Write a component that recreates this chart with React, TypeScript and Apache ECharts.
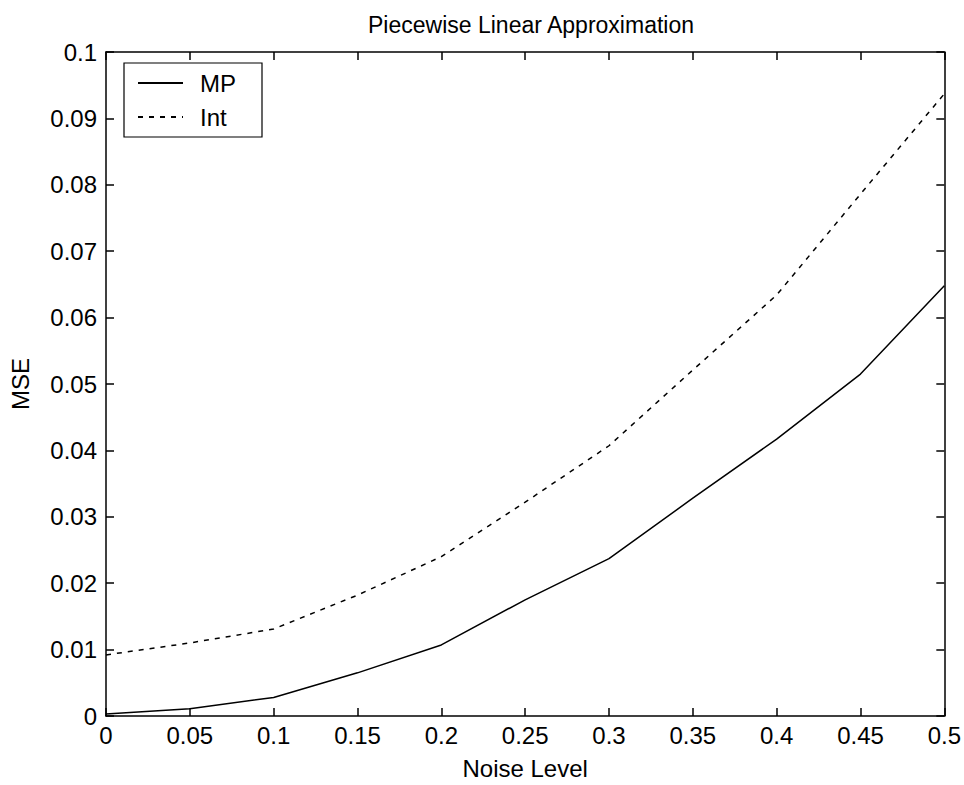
import React, { useEffect, useRef } from "react";
import * as echarts from "echarts";

const noiseLevels = [0, 0.05, 0.1, 0.15, 0.2, 0.25, 0.3, 0.35, 0.4, 0.45, 0.5];
const mpValues = [0.0003, 0.0011, 0.0028, 0.0065, 0.0107, 0.0175, 0.0237, 0.0328, 0.0417, 0.0515, 0.0648];
const intValues = [0.0092, 0.011, 0.0131, 0.0182, 0.024, 0.0322, 0.0407, 0.0521, 0.0634, 0.0786, 0.0937];
const seriesNames = ["MP", "Int"];
const titleText = "Piecewise Linear Approximation";
const xLabel = "Noise Level";
const yLabel = "MSE";

const FONT = "'Liberation Sans', Arial, Helvetica, sans-serif";

export default function App() {
  const ref = useRef<HTMLDivElement>(null);
  useEffect(() => {
    if (!ref.current) return;
    const chart = echarts.init(ref.current, undefined, { renderer: "svg" });
    const fmt = (v: number) => String(+v.toFixed(3));
    const axisCommon = {
      axisLine: { show: true, onZero: false, lineStyle: { color: "#000", width: 1.5 } },
      axisTick: { show: true, inside: true, length: 8, lineStyle: { color: "#000", width: 1.5 } },
      splitLine: { show: false },
    };
    chart.setOption({
      animation: false,
      backgroundColor: "#fff",
      textStyle: { fontFamily: FONT },
      title: {
        text: titleText,
        left: 526,
        textAlign: "center",
        top: 8,
        textStyle: { fontFamily: FONT, fontSize: 23, fontWeight: "normal", color: "#000" },
      },
      grid: { left: 106, right: 18, top: 52, bottom: 67 },
      legend: {
        left: 124,
        top: 63,
        orient: "vertical",
        data: seriesNames,
        borderColor: "#000",
        borderWidth: 1.2,
        padding: [8, 26, 8, 13],
        itemWidth: 45,
        itemHeight: 14,
        itemGap: 10,
        itemStyle: { opacity: 0 },
        textStyle: { fontFamily: FONT, fontSize: 24, color: "#000", padding: [0, 0, 0, 12] },
      },
      xAxis: [
        {
          type: "value",
          min: 0,
          max: 0.5,
          interval: 0.05,
          position: "bottom",
          name: xLabel,
          nameLocation: "middle",
          nameGap: 40,
          nameTextStyle: { fontFamily: FONT, fontSize: 24, color: "#000" },
          axisLabel: { fontFamily: FONT, fontSize: 24, color: "#000", margin: 7, formatter: fmt },
          ...axisCommon,
        },
        {
          type: "value",
          min: 0,
          max: 0.5,
          interval: 0.05,
          position: "top",
          axisLabel: { show: false },
          ...axisCommon,
        },
      ],
      yAxis: [
        {
          type: "value",
          min: 0,
          max: 0.1,
          interval: 0.01,
          position: "left",
          name: yLabel,
          nameLocation: "middle",
          nameGap: 74,
          nameRotate: 90,
          nameTextStyle: { fontFamily: FONT, fontSize: 24, color: "#000" },
          axisLabel: { fontFamily: FONT, fontSize: 24, color: "#000", margin: 9, formatter: fmt },
          ...axisCommon,
        },
        {
          type: "value",
          min: 0,
          max: 0.1,
          interval: 0.01,
          position: "right",
          axisLabel: { show: false },
          ...axisCommon,
        },
      ],
      series: [
        {
          name: seriesNames[0],
          type: "line",
          data: noiseLevels.map((x, i) => [x, mpValues[i]]),
          symbol: "none",
          lineStyle: { color: "#000", width: 1.5, type: "solid" },
          itemStyle: { color: "#000" },
        },
        {
          name: seriesNames[1],
          type: "line",
          data: noiseLevels.map((x, i) => [x, intValues[i]]),
          symbol: "none",
          lineStyle: { color: "#000", width: 1.5, type: [5, 6] },
          itemStyle: { color: "#000" },
        },
      ],
    });
    return () => chart.dispose();
  }, []);
  return (
    <div
      ref={ref}
      style={{ position: "fixed", left: 0, top: 0, width: 964, height: 785, background: "#fff" }}
    />
  );
}
